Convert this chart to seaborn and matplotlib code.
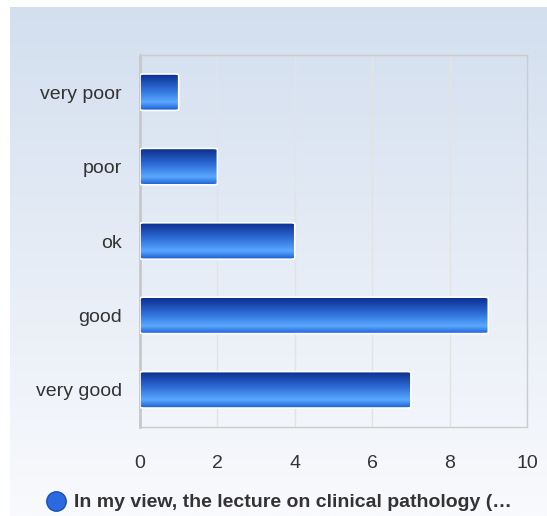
import numpy as np
import pandas as pd
import seaborn as sns
import matplotlib.pyplot as plt
from matplotlib.colors import LinearSegmentedColormap
from matplotlib.patches import FancyBboxPatch
from matplotlib.lines import Line2D

categories = ['very poor', 'poor', 'ok', 'good', 'very good']
counts = [1, 2, 4, 9, 7]
xticks = [0, 2, 4, 6, 8, 10]
series_name = 'In my view, the lecture on clinical pathology (\u2026'

df = pd.DataFrame({'Answer': categories, 'Count': counts})

sns.set_style('white')
plt.rcParams['font.family'] = ['Liberation Sans', 'DejaVu Sans']

dpi = 100
fig = plt.figure(figsize=(547 / dpi, 516 / dpi), dpi=dpi)
fig.patch.set_facecolor('white')

# gradient backdrop
bg = fig.add_axes([10 / 547, 0, 537 / 547, 509 / 516])
bg_cmap = LinearSegmentedColormap.from_list('bg', ['#d3dfef', '#f9fafd'])
bg.imshow(np.linspace(0, 1, 256).reshape(-1, 1), aspect='auto', cmap=bg_cmap,
          extent=[0, 1, 0, 1], origin='upper')
bg.set_axis_off()

ax = fig.add_axes([140 / 547, 89 / 516, 387 / 547, 372 / 516])
ax.patch.set_alpha(0)

sns.barplot(data=df, y='Answer', x='Count', order=categories, width=0.49,
            color='#2a6ae0', ax=ax)

bar_cmap = LinearSegmentedColormap.from_list(
    'bar', [(0, '#0a2a8a'), (0.45, '#2f6fd8'), (0.78, '#5aa8ff'), (1, '#1a5cd2')])
grad = np.linspace(0, 1, 256).reshape(-1, 1)
for p in list(ax.patches):
    x0, y0 = p.get_x(), p.get_y()
    w, h = p.get_width(), p.get_height()
    p.set_visible(False)
    clip = FancyBboxPatch((x0, y0), w, h, boxstyle='round,pad=0,rounding_size=0.12',
                          mutation_aspect=0.1, transform=ax.transData,
                          facecolor='none', edgecolor='white', lw=1.2, zorder=4)
    ax.add_patch(clip)
    im = ax.imshow(grad, aspect='auto', cmap=bar_cmap,
                   extent=[x0, x0 + w, y0 + h, y0], origin='upper', zorder=3)
    im.set_clip_path(clip)

ax.set_xlim(0, 10)
ax.set_ylim(4.5, -0.5)
ax.set_xticks(xticks)
ax.set_xticklabels([str(t) for t in xticks])
ax.set_xlabel('')
ax.set_ylabel('')
ax.grid(axis='x', color='#e3e3e3', lw=1)
ax.set_axisbelow(True)
for s in ax.spines.values():
    s.set_color('#cccccc')
    s.set_linewidth(1)
ax.spines['left'].set_color('#c8c8c8')
ax.spines['left'].set_linewidth(2)
ax.tick_params(axis='both', length=0, labelsize=14, colors='#333333')
ax.tick_params(axis='y', pad=13)
ax.tick_params(axis='x', pad=20)

handle = Line2D([], [], marker='o', ls='', markersize=14,
                markerfacecolor='#2a6ae0', markeredgecolor='#1a4fb8')
fig.legend([handle], [series_name], loc='center', bbox_to_anchor=(0.508, 0.026),
           frameon=False, handletextpad=0.3, handlelength=1.2,
           prop={'weight': 'bold', 'size': 14}, labelcolor='#333333')

fig.savefig('out.png', dpi=dpi)
